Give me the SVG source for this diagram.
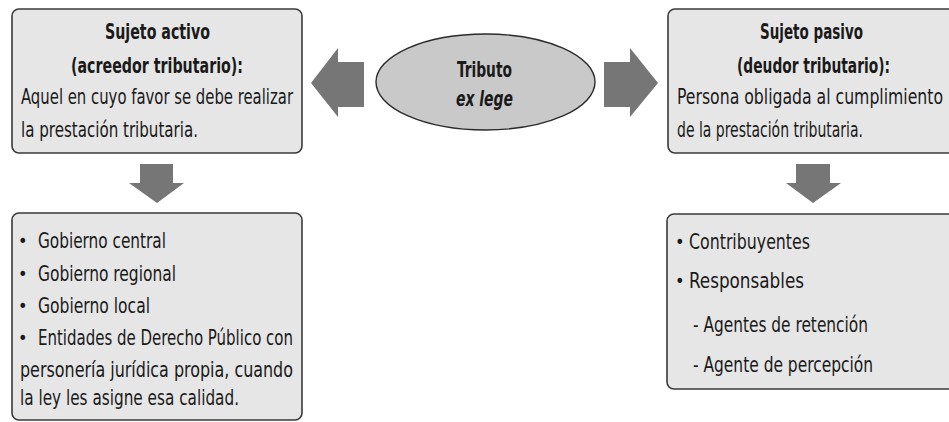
<svg xmlns="http://www.w3.org/2000/svg" width="949" height="422" viewBox="0 0 949 422">
<style>
.box{fill:#e6e6e6;stroke:#3a3a3a;stroke-width:1.6}
.ell{fill:#c9c9c9;stroke:#2a2a2a;stroke-width:1.4}
.arr{fill:#767676}
text{font-family:"DejaVu Sans Condensed","Liberation Sans",Arial,sans-serif;font-size:21px;fill:#1a1a1a}
.b{font-weight:bold}
.bi{font-weight:bold;font-style:italic}
.dot{font-size:18px}
</style>
<rect width="949" height="422" fill="#ffffff"/>
<g id="connectors">
<polygon class="arr" points="364,62 338,62 338,48 311,83 338,117 338,107 364,107"/>
<polygon class="arr" points="604,62 630,62 630,48 658,83 630,117 630,107 604,107"/>
<polygon class="arr" points="140,164 173,164 173,183 184,183 157,203 129,183 140,183"/>
<polygon class="arr" points="796,164 830,164 830,183 841,183 813,203 786,183 796,183"/>
</g>
<g id="tributo">
<ellipse class="ell" cx="485.5" cy="82" rx="109.5" ry="48"/>
<text class="b" x="457" y="77" textLength="55" lengthAdjust="spacingAndGlyphs">Tributo</text>
<text class="bi" x="456" y="106" textLength="57" lengthAdjust="spacingAndGlyphs">ex lege</text>
</g>
<g id="sujeto-activo">
<rect class="box" x="12" y="9" width="290" height="144" rx="7"/>
<text class="b" x="105" y="39" textLength="105" lengthAdjust="spacingAndGlyphs">Sujeto activo</text>
<text class="b" x="71" y="73" textLength="172" lengthAdjust="spacingAndGlyphs">(acreedor tributario):</text>
<text x="21" y="104" textLength="272" lengthAdjust="spacingAndGlyphs">Aquel en cuyo favor se debe realizar</text>
<text x="21" y="137" textLength="177" lengthAdjust="spacingAndGlyphs">la prestación tributaria.</text>
</g>
<g id="sujeto-pasivo">
<rect class="box" x="668" y="9" width="300" height="144" rx="7"/>
<text class="b" x="760" y="39" textLength="103" lengthAdjust="spacingAndGlyphs">Sujeto pasivo</text>
<text class="b" x="737" y="73" textLength="153" lengthAdjust="spacingAndGlyphs">(deudor tributario):</text>
<text transform="translate(677,104) scale(0.83,1)" x="0" y="0" textLength="320.5" lengthAdjust="spacingAndGlyphs">Persona obligada al cumplimiento</text>
<text x="677" y="137" textLength="186" lengthAdjust="spacingAndGlyphs">de la prestación tributaria.</text>
</g>
<g id="acreedores">
<rect class="box" x="12" y="213" width="290" height="207" rx="7"/>
<text class="dot" x="18" y="247">•</text>
<text x="38" y="248" textLength="128" lengthAdjust="spacingAndGlyphs">Gobierno central</text>
<text class="dot" x="18" y="280">•</text>
<text x="38" y="281" textLength="138" lengthAdjust="spacingAndGlyphs">Gobierno regional</text>
<text class="dot" x="18" y="312">•</text>
<text x="38" y="313" textLength="112" lengthAdjust="spacingAndGlyphs">Gobierno local</text>
<text class="dot" x="18" y="344">•</text>
<text x="38" y="345" textLength="255" lengthAdjust="spacingAndGlyphs">Entidades de Derecho Público con</text>
<text x="20" y="377" textLength="273" lengthAdjust="spacingAndGlyphs">personería jurídica propia, cuando</text>
<text x="20" y="405" textLength="219" lengthAdjust="spacingAndGlyphs">la ley les asigne esa calidad.</text>
</g>
<g id="deudores">
<rect class="box" x="667" y="214" width="300" height="175" rx="7"/>
<text class="dot" x="675" y="248">•</text>
<text x="689" y="249" textLength="121" lengthAdjust="spacingAndGlyphs">Contribuyentes</text>
<text class="dot" x="675" y="287">•</text>
<text x="689" y="288" textLength="115" lengthAdjust="spacingAndGlyphs">Responsables</text>
<text x="693" y="332" textLength="175" lengthAdjust="spacingAndGlyphs">- Agentes de retención</text>
<text x="693" y="372" textLength="180" lengthAdjust="spacingAndGlyphs">- Agente de percepción</text>
</g>
</svg>
